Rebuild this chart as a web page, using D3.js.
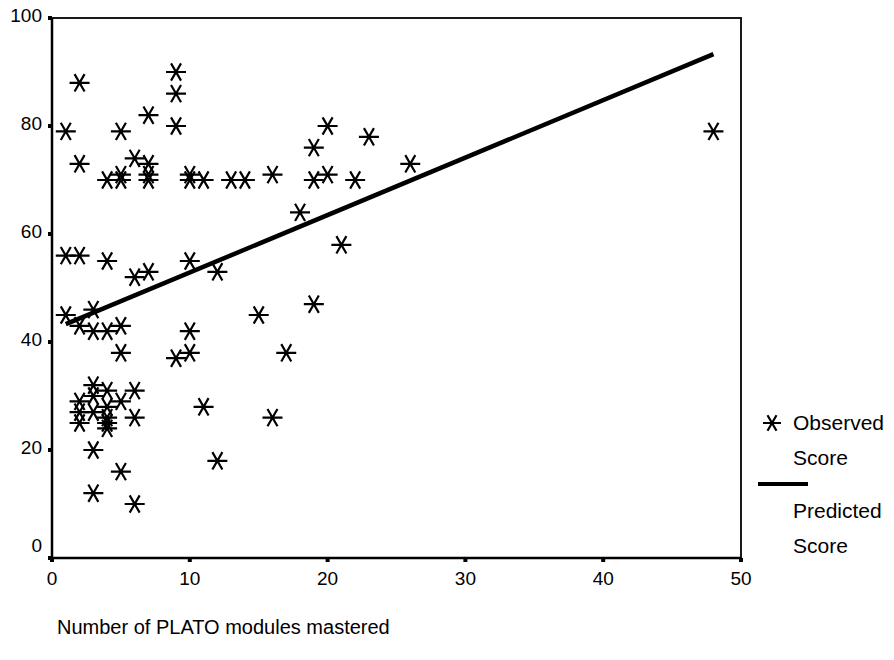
<!DOCTYPE html>
<html>
<head>
<meta charset="utf-8">
<script src="https://cdn.jsdelivr.net/npm/d3@7"></script>
<style>
  body { margin: 0; background: #fff; }
  svg { font-family: "Liberation Sans", Arial, sans-serif; }
</style>
</head>
<body>
<svg id="chart" width="894" height="660"></svg>
<script>
// observed scores (modules mastered, score)
const obsX = [1, 2, 2, 4, 5, 5, 5, 6, 7, 7, 7, 7, 9, 9, 9, 10, 10, 11, 13, 14, 16, 19, 19, 20, 20, 22, 23, 26, 48,
  18, 21, 19, 1, 2, 4, 6, 7, 10, 12, 1, 2, 3, 3, 4, 5, 5, 9, 10, 10, 15, 17,
  3, 4, 6, 2, 2, 2, 3, 3, 4, 4, 4, 4, 5, 6, 3, 5, 3, 6, 11, 12, 16];
const obsY = [79, 88, 73, 70, 70, 71, 79, 74, 82, 73, 71, 70, 90, 86, 80, 71, 70, 70, 70, 70, 71, 76, 70, 80, 71, 70, 78, 73, 79,
  64, 58, 47, 56, 56, 55, 52, 53, 55, 53, 45, 43, 46, 42, 42, 43, 38, 37, 38, 42, 45, 38,
  32, 31, 31, 29, 27, 25, 30, 27, 28, 26, 25, 24, 29, 26, 20, 16, 12, 10, 28, 18, 26];

// predicted score line, end points
const predX = [1, 48];
const predY = [43.3, 93.3];

const xTicks = [0, 10, 20, 30, 40, 50];
const yTicks = [0, 20, 40, 60, 80, 100];

const margin = { top: 18, left: 52 };
const width = 689;
const height = 540;

const svg = d3.select('#chart');
const g = svg.append('g')
  .attr('transform', `translate(${margin.left}, ${margin.top})`);

const x = d3.scaleLinear().domain([0, 50]).range([0, width]);
const y = d3.scaleLinear().domain([0, 100]).range([height, 0]);

// frame
g.append('rect')
  .attr('width', width)
  .attr('height', height)
  .attr('fill', 'none')
  .attr('stroke', '#000')
  .attr('stroke-width', 1.8);
g.append('line').attr('x1', 0).attr('x2', 0).attr('y1', 0).attr('y2', height)
  .attr('stroke', '#000').attr('stroke-width', 2.5);
g.append('line').attr('x1', 0).attr('x2', width).attr('y1', height).attr('y2', height)
  .attr('stroke', '#000').attr('stroke-width', 2.5);

// tick dots + labels
g.selectAll('.ytick')
  .data(yTicks)
  .enter().append('rect')
  .attr('x', -4)
  .attr('y', d => y(d) - 2)
  .attr('width', 4)
  .attr('height', 4)
  .attr('fill', '#000');

// end labels sit a little inside the axis, like the original
g.selectAll('.ylabel')
  .data(yTicks)
  .enter().append('text')
  .attr('x', -10)
  .attr('y', d => y(d) - (d === 0 ? 13 : 3))
  .attr('dy', '0.35em')
  .attr('text-anchor', 'end')
  .attr('font-size', 19)
  .text(d => d);

g.selectAll('.xtick')
  .data(xTicks)
  .enter().append('rect')
  .attr('x', d => x(d) - 2)
  .attr('y', height)
  .attr('width', 4)
  .attr('height', 4)
  .attr('fill', '#000');

g.selectAll('.xlabel')
  .data(xTicks)
  .enter().append('text')
  .attr('x', d => x(d))
  .attr('y', height + 20)
  .attr('dy', '0.35em')
  .attr('text-anchor', 'middle')
  .attr('font-size', 19)
  .text(d => d);

svg.append('text')
  .attr('x', 57)
  .attr('y', 634)
  .attr('font-size', 20)
  .text('Number of PLATO modules mastered');

// asterisk marker: horizontal bar + two diagonals
function star(sel, r) {
  const dx = r * Math.cos(Math.PI / 3), dy = r * Math.sin(Math.PI / 3);
  sel.append('path')
    .attr('d', `M${-r},0L${r},0M${-dx},${-dy}L${dx},${dy}M${-dx},${dy}L${dx},${-dy}`)
    .attr('stroke', '#000')
    .attr('stroke-width', 2.2)
    .attr('fill', 'none');
}

const points = d3.zip(obsX, obsY);
g.selectAll('.pt')
  .data(points)
  .enter().append('g')
  .attr('class', 'pt')
  .attr('transform', d => `translate(${x(d[0])}, ${y(d[1])})`)
  .each(function() { star(d3.select(this), 10); });

// predicted line
g.append('path')
  .datum(d3.zip(predX, predY))
  .attr('d', d3.line().x(d => x(d[0])).y(d => y(d[1])))
  .attr('stroke', '#000')
  .attr('stroke-width', 4.5)
  .attr('fill', 'none');

// legend
const legend = svg.append('g').attr('id', 'legend');
star(legend.append('g').attr('transform', 'translate(772, 423)'), 9);
legend.append('line')
  .attr('x1', 758).attr('x2', 808)
  .attr('y1', 484).attr('y2', 484)
  .attr('stroke', '#000').attr('stroke-width', 4);

const legendText = [['Observed', 423], ['Score', 458], ['Predicted', 511], ['Score', 546]];
legend.selectAll('text')
  .data(legendText)
  .enter().append('text')
  .attr('x', 793)
  .attr('y', d => d[1])
  .attr('dy', '0.35em')
  .attr('font-size', 21)
  .text(d => d[0]);
</script>
</body>
</html>
